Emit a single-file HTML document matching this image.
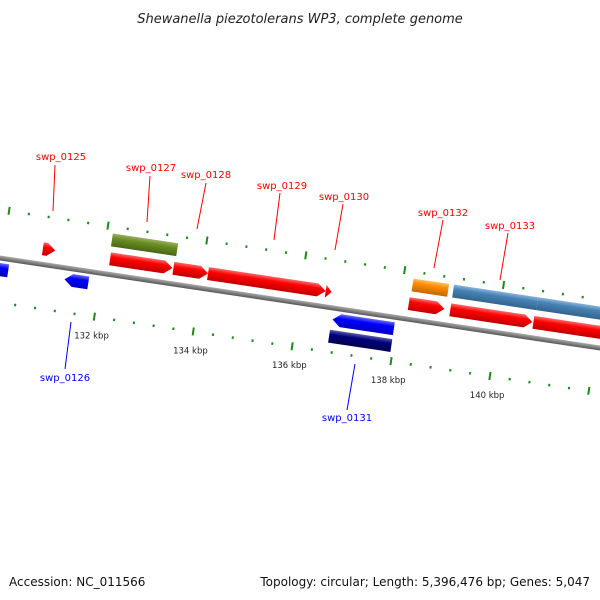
<!DOCTYPE html>
<html><head><meta charset="utf-8"><style>
html,body{margin:0;padding:0;background:#fff;}
svg{display:block;font-family:"DejaVu Sans","Liberation Sans",sans-serif;}
</style></head><body>
<svg id="map" width="600" height="600" viewBox="0 0 600 600">
<defs>
<linearGradient id="gRed" x1="0" y1="0" x2="0" y2="1"><stop offset="0" stop-color="#ff6a6a"/><stop offset="0.35" stop-color="#ff0000"/><stop offset="1" stop-color="#c00000"/></linearGradient>
<linearGradient id="gBlue" x1="0" y1="0" x2="0" y2="1"><stop offset="0" stop-color="#6a6aff"/><stop offset="0.35" stop-color="#0000ff"/><stop offset="1" stop-color="#0000c0"/></linearGradient>
<linearGradient id="gNavy" x1="0" y1="0" x2="0" y2="1"><stop offset="0" stop-color="#5a5aa8"/><stop offset="0.35" stop-color="#00007a"/><stop offset="1" stop-color="#000050"/></linearGradient>
<linearGradient id="gOlive" x1="0" y1="0" x2="0" y2="1"><stop offset="0" stop-color="#9ab060"/><stop offset="0.35" stop-color="#6b8e23"/><stop offset="1" stop-color="#4a6518"/></linearGradient>
<linearGradient id="gOrange" x1="0" y1="0" x2="0" y2="1"><stop offset="0" stop-color="#ffc060"/><stop offset="0.35" stop-color="#ff8c00"/><stop offset="1" stop-color="#c06800"/></linearGradient>
<linearGradient id="gSteel" x1="0" y1="0" x2="0" y2="1"><stop offset="0" stop-color="#8ab4dc"/><stop offset="0.35" stop-color="#4682b4"/><stop offset="1" stop-color="#34648c"/></linearGradient>
<linearGradient id="gGray" x1="0" y1="0" x2="0" y2="1"><stop offset="0" stop-color="#aaa"/><stop offset="0.5" stop-color="#808080"/><stop offset="1" stop-color="#555"/></linearGradient>
</defs>
<text x="300" y="23" text-anchor="middle" font-size="13" font-style="italic" fill="#222">Shewanella piezotolerans WP3, complete genome</text>
<g id="track" transform="translate(0,258) rotate(8.53)">
<rect x="-20" y="-2.5" width="660" height="5" fill="url(#gGray)"/>
</g>
<g id="labels"></g>
<text x="9" y="586" font-size="12" fill="#111">Accession: NC_011566</text>
<text x="590" y="586" text-anchor="end" font-size="12" fill="#111">Topology: circular; Length: 5,396,476 bp; Genes: 5,047</text>
</svg>
<script>
// gene data (kbp)
const geneStart = [130.78,132.14,133.42,134.12,136.5,138.18,139.02,140.7, 132.12,138.2,139.02,140.72, 129.4,131.3,136.72, 136.7];
const geneEnd   = [131.03,133.4,134.12,136.5,136.62,138.9,140.68,142.6, 133.44,138.92,140.72,142.6, 130.16,131.78,137.96, 137.96];
const geneRow   = [1,1,1,1,1,1,1,1, 2,2,2,2, -1,-1,-1, -2];
const geneColor = ['gRed','gRed','gRed','gRed','gRed','gRed','gRed','gRed','gOlive','gOrange','gSteel','gSteel','gBlue','gBlue','gBlue','gNavy'];
const geneArrow = [1,1,1,1,1,1,1,1, 0,0,0,0, -1,-1,-1, 0];
const tickMajors = [132,134,136,138,140];
const tickLabels = ['132 kbp','134 kbp','136 kbp','138 kbp','140 kbp'];
const geneLabels = ['swp_0125','swp_0127','swp_0128','swp_0129','swp_0130','swp_0132','swp_0133','swp_0126','swp_0131'];
const geneLabelColors = ['red','red','red','red','red','red','red','blue','blue'];
const labelX = [61,151,206,282,344,443,510,65,347];
const labelY = [160,171,178,189,200,216,229,381,421];

const NS='http://www.w3.org/2000/svg';
const track=document.getElementById('track');
const svg=document.getElementById('map');
const C=Math.cos(8.53*Math.PI/180), S=Math.sin(8.53*Math.PI/180);
function u(k){return 102+(k-132)*50;}
function scr(uu,v){return [uu*C - v*S, 258 + uu*S + v*C];}
const rowTop={'1':-22,'2':-41,'-1':5,'-2':22};
const H=13;

for(let i=0;i<geneStart.length;i++){
  const x0=u(geneStart[i]), x1=u(geneEnd[i]), y0=rowTop[geneRow[i]], y1=y0+H, ym=y0+H/2;
  const a=Math.min(8,(x1-x0));
  let d;
  if(geneArrow[i]===1) d=`M${x0},${y0}L${x1-a},${y0}L${x1},${ym}L${x1-a},${y1}L${x0},${y1}Z`;
  else if(geneArrow[i]===-1) d=`M${x1},${y0}L${x0+a},${y0}L${x0},${ym}L${x0+a},${y1}L${x1},${y1}Z`;
  else d=`M${x0},${y0}L${x1},${y0}L${x1},${y1}L${x0},${y1}Z`;
  const p=document.createElementNS(NS,'path');
  p.setAttribute('d',d);p.setAttribute('fill','url(#'+geneColor[i]+')');
  
  
  track.appendChild(p);
}
// ticks
for(let k=129.6;k<=143;k+=0.4){
  const kk=Math.round(k*10)/10;
  const major=Math.abs(kk/2-Math.round(kk/2))<0.01;
  [-48,44].forEach(v=>{
    const r=document.createElementNS(NS,'rect');
    const x=u(kk);
    if(major){r.setAttribute('x',x-1);r.setAttribute('y',v-4);r.setAttribute('width',2);r.setAttribute('height',8);}
    else{r.setAttribute('x',x-1);r.setAttribute('y',v-1);r.setAttribute('width',2);r.setAttribute('height',2.5);}
    r.setAttribute('fill','#1a8a1a');
    
    
    track.appendChild(r);
  });
}
for(let i=0;i<tickMajors.length;i++){
  const [x,y]=scr(u(tickMajors[i]),63);
  const t=document.createElementNS(NS,'text');
  t.setAttribute('x',x);t.setAttribute('y',y+3);t.setAttribute('text-anchor','middle');
  t.setAttribute('font-size','8.5');t.setAttribute('fill','#222');
  t.textContent=tickLabels[i];
  
  
  svg.appendChild(t);
}
const lineEnds=[[55,165,53,211],[150,176,147,222],[206,183,197,229],[280,193,274,240],[343,204,335,250],[443,220,434,268],[508,233,500,280],[71,322,65,369],[355,364,347,410]];
for(let i=0;i<geneLabels.length;i++){
  const t=document.createElementNS(NS,'text');
  t.setAttribute('x',labelX[i]);t.setAttribute('y',labelY[i]);t.setAttribute('text-anchor','middle');
  t.setAttribute('font-size','10');t.setAttribute('fill',geneLabelColors[i]);
  t.textContent=geneLabels[i];
  
  
  svg.appendChild(t);
  const l=document.createElementNS(NS,'line');
  const e=lineEnds[i];
  l.setAttribute('x1',e[0]);l.setAttribute('y1',e[1]);l.setAttribute('x2',e[2]);l.setAttribute('y2',e[3]);
  l.setAttribute('stroke',geneLabelColors[i]);l.setAttribute('stroke-width','1');
  
  
  svg.appendChild(l);
}
</script>
</body></html>
